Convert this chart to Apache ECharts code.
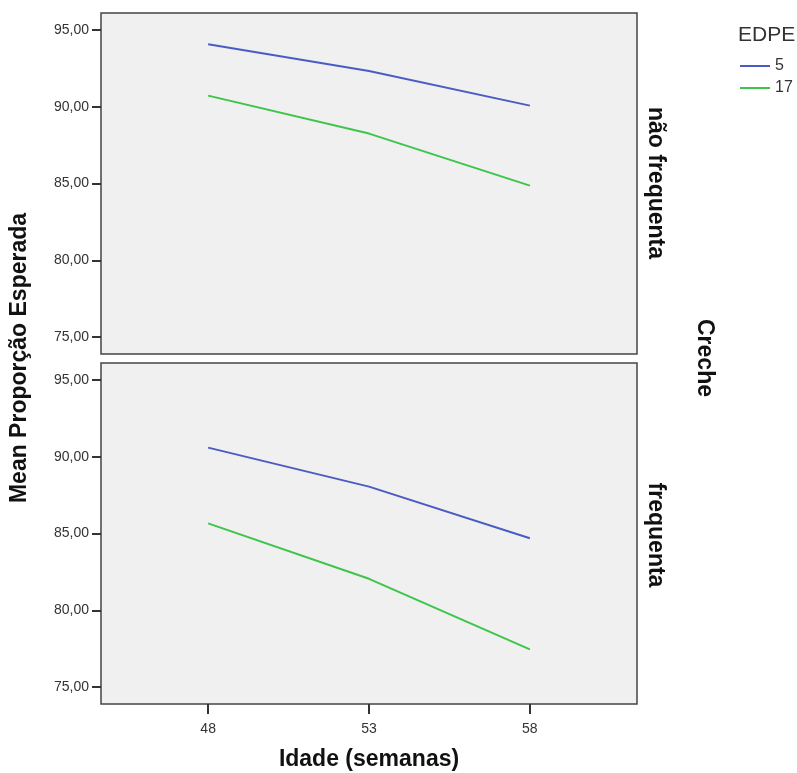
<!DOCTYPE html>
<html>
<head>
<meta charset="utf-8">
<script src="https://cdn.jsdelivr.net/npm/echarts@6/dist/echarts.min.js"></script>
<style>
  html, body { margin: 0; padding: 0; background: #fff; }
  #main { width: 797px; height: 773px; }
</style>
</head>
<body>
<div id="main"></div>
<script>
// idade em semanas
const idade = [48, 53, 58];
const yTicks = [75, 80, 85, 90, 95];
const seriesNames = ['5', '17'];
const paineis = ['não frequenta', 'frequenta'];

// não frequenta
const naoFreq5 = [94.07, 92.33, 90.07];
const naoFreq17 = [90.72, 88.25, 84.86];
// frequenta
const freq5 = [90.59, 88.05, 84.69];
const freq17 = [85.66, 82.05, 77.46];

const cores = ['#4a5cc4', '#3dc54a'];
const fonte = 'Arial, "Liberation Sans", sans-serif';

function pares(vals) {
    return idade.map((x, i) => [x, vals[i]]);
}

let myChart = echarts.init(document.getElementById('main'));

const gridBase = {
    left: 101, width: 536, height: 341,
    show: true, backgroundColor: '#f0f0f0',
    borderColor: '#444', borderWidth: 1.5
};

const yBase = {
    type: 'value', min: 73.9, max: 96.1,
    axisLine: { show: false },
    splitLine: { show: false },
    axisTick: { show: true, length: 9, inside: false, customValues: yTicks, lineStyle: { color: '#333', width: 2 } },
    axisLabel: {
        customValues: yTicks, color: '#333', fontSize: 14, fontFamily: fonte, margin: 12,
        formatter: v => v.toFixed(2).replace('.', ',')
    }
};

const xBase = {
    type: 'value', min: 44.67, max: 61.33,
    axisLine: { show: false },
    splitLine: { show: false }
};

function linha(nome, idx, dados, cor) {
    return {
        name: nome, type: 'line', xAxisIndex: idx, yAxisIndex: idx,
        data: pares(dados), symbol: 'none', silent: true,
        lineStyle: { color: cor, width: 2 }, itemStyle: { color: cor }
    };
}

const titulo = { fontSize: 23, fontWeight: 'bold', fill: '#111', fontFamily: fonte, align: 'center', verticalAlign: 'middle' };

myChart.setOption({
    animation: false,
    textStyle: { fontFamily: fonte },
    grid: [
        Object.assign({ top: 13 }, gridBase),
        Object.assign({ top: 363 }, gridBase)
    ],
    xAxis: [
        Object.assign({ gridIndex: 0, axisTick: { show: false }, axisLabel: { show: false } }, xBase),
        Object.assign({
            gridIndex: 1,
            axisTick: { show: true, length: 10, customValues: idade, lineStyle: { color: '#333', width: 2 } },
            axisLabel: { customValues: idade, color: '#333', fontSize: 14, margin: 18, fontFamily: fonte }
        }, xBase)
    ],
    yAxis: [
        Object.assign({ gridIndex: 0 }, yBase),
        Object.assign({ gridIndex: 1 }, yBase)
    ],
    legend: {
        data: seriesNames,
        orient: 'vertical', left: 740, top: 58, padding: 0,
        itemWidth: 30, itemHeight: 2, itemGap: 6,
        icon: 'rect',
        textStyle: { color: '#333', fontSize: 16, fontFamily: fonte }
    },
    graphic: [
        { type: 'text', x: 738, y: 35, style: { text: 'EDPE', fontSize: 21, fill: '#333', fontFamily: fonte, verticalAlign: 'middle' } },
        { type: 'text', x: 20, y: 358, rotation: Math.PI / 2, style: Object.assign({ text: 'Mean Proporção Esperada' }, titulo) },
        { type: 'text', x: 369, y: 760, style: Object.assign({ text: 'Idade (semanas)' }, titulo) },
        { type: 'text', x: 655, y: 183, rotation: -Math.PI / 2, style: Object.assign({ text: paineis[0] }, titulo) },
        { type: 'text', x: 655, y: 535, rotation: -Math.PI / 2, style: Object.assign({ text: paineis[1] }, titulo) },
        { type: 'text', x: 704, y: 358, rotation: -Math.PI / 2, style: Object.assign({ text: 'Creche' }, titulo) }
    ],
    series: [
        linha(seriesNames[0], 0, naoFreq5, cores[0]),
        linha(seriesNames[1], 0, naoFreq17, cores[1]),
        linha(seriesNames[0], 1, freq5, cores[0]),
        linha(seriesNames[1], 1, freq17, cores[1])
    ]
});
</script>
</body>
</html>
